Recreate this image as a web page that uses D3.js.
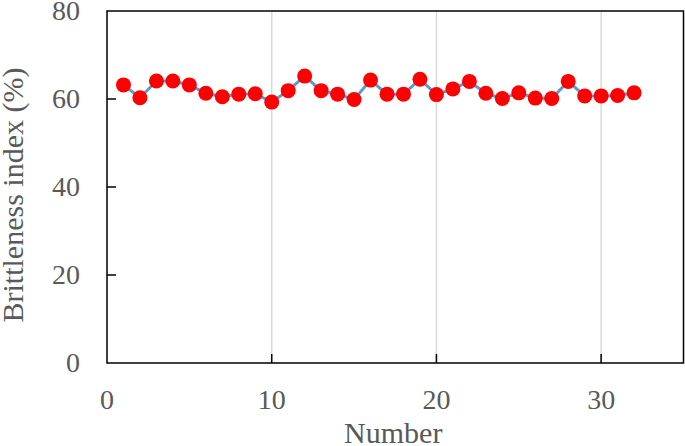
<!DOCTYPE html>
<html><head><meta charset="utf-8">
<script src="https://cdn.jsdelivr.net/npm/d3@7"></script>
<style>body{margin:0;background:#fff}svg{display:block}</style>
</head><body>
<svg id="c" width="685" height="446"></svg>
<script>
const numbers = d3.range(1, 33);
const brittleness = [63.2,60.3,64.1,64.1,63.2,61.3,60.5,61.1,61.2,59.3,61.9,65.2,61.9,61.1,59.9,64.3,61.1,61.1,64.5,61.0,62.3,64.0,61.3,60.1,61.4,60.2,60.1,64.0,60.7,60.7,60.8,61.4];
const xTicks = [0,10,20,30];
const yTicks = [0,20,40,60,80];
const xTitle = "Number";
const yTitle = "Brittleness index (%)";

const svg = d3.select("#c");
const L=107, R=683.5, T=11, B=363;
const x = d3.scaleLinear().domain([0,35]).range([L,R]);
const y = d3.scaleLinear().domain([0,80]).range([B,T]);
const txt = "#595959";
const font = "'Liberation Serif','Times New Roman',serif";

// gridlines
svg.append("g").selectAll("line").data(xTicks.filter(d=>d>0)).join("line")
  .attr("x1",d=>x(d)).attr("x2",d=>x(d)).attr("y1",T).attr("y2",B)
  .attr("stroke","#d9d9d9").attr("stroke-width",1.5);

// box
svg.append("rect").attr("x",L).attr("y",T).attr("width",R-L).attr("height",B-T)
  .attr("fill","none").attr("stroke","#000").attr("stroke-width",1.5);

// ticks
svg.append("g").selectAll("line").data(xTicks.filter(d=>d>0)).join("line")
  .attr("x1",d=>x(d)).attr("x2",d=>x(d)).attr("y1",B).attr("y2",B-9)
  .attr("stroke","#000").attr("stroke-width",1.5);
svg.append("g").selectAll("line").data(yTicks.filter(d=>d>0&&d<80)).join("line")
  .attr("x1",L).attr("x2",L+9).attr("y1",d=>y(d)).attr("y2",d=>y(d))
  .attr("stroke","#000").attr("stroke-width",1.5);

// tick labels
svg.append("g").selectAll("text").data(xTicks).join("text")
  .attr("x",d=>x(d)).attr("y",409).attr("text-anchor","middle")
  .attr("font-family",font).attr("font-size",28).attr("fill",txt).text(d=>d);
svg.append("g").selectAll("text").data(yTicks).join("text")
  .attr("x",80).attr("y",d=>y(d)).attr("dy","0.33em").attr("text-anchor","end")
  .attr("font-family",font).attr("font-size",28).attr("fill",txt).text(d=>d);

// titles
svg.append("text").attr("x",(L+R)/2-2).attr("y",443).attr("text-anchor","middle")
  .attr("font-family",font).attr("font-size",30).attr("fill",txt).text(xTitle);
svg.append("text").attr("transform","translate(23,195) rotate(-90)").attr("text-anchor","middle")
  .attr("font-family",font).attr("font-size",30).attr("fill",txt).text(yTitle);

// line + markers
const line = d3.line().x((d,i)=>x(numbers[i])).y(d=>y(d));
svg.append("path").datum(brittleness).attr("d",line).attr("fill","none")
  .attr("stroke","#5b9bd5").attr("stroke-width",3);
svg.append("g").selectAll("circle").data(brittleness).join("circle")
  .attr("cx",(d,i)=>x(numbers[i])).attr("cy",d=>y(d)).attr("r",7.5).attr("fill","#ff0000");
</script>
</body></html>
